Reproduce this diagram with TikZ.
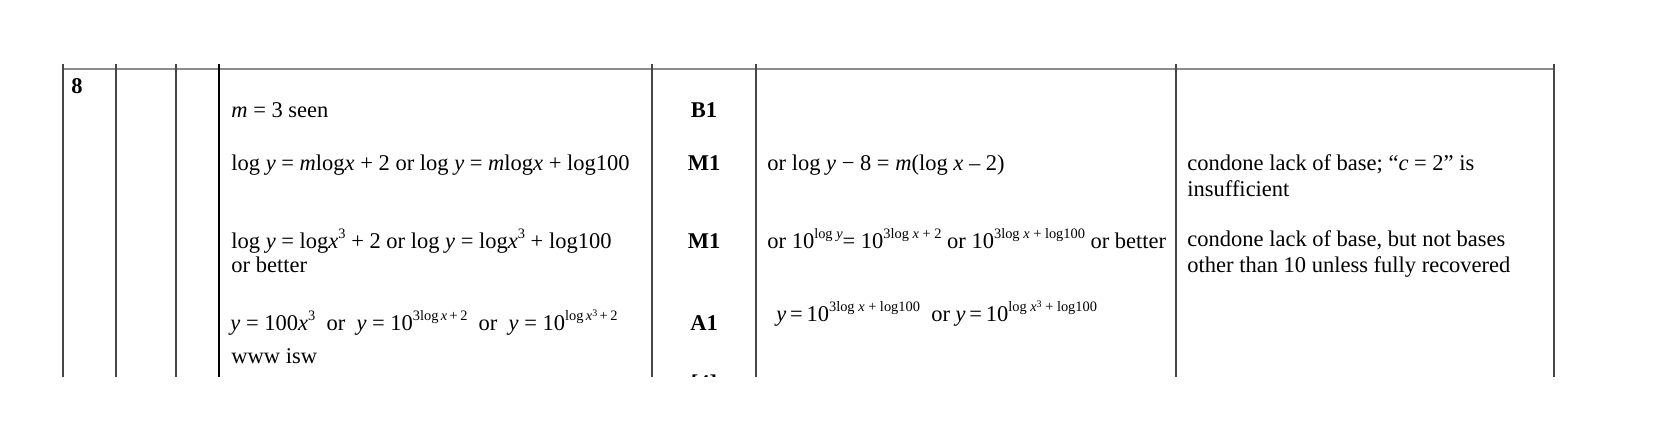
\documentclass[tikz,border=0pt]{standalone}
\usepackage{fontspec}
\setmainfont{Liberation Serif}
\newcommand\ex[1]{\raisebox{0.45em}{\fontsize{7.2}{7.2}\selectfont #1}}
\newcommand\exx[1]{\raisebox{0.3em}{\fontsize{5}{5}\selectfont #1}}
\newcommand\iv[1]{\textit{#1}}
\begin{document}
\begin{tikzpicture}[x=0.5pt,y=-0.5pt,
  txt/.style={anchor=base west,inner sep=0pt,font=\fontsize{11.25}{13}\selectfont},
  scorelbl/.style={anchor=base,inner sep=0pt,font=\fontsize{11.25}{13}\selectfont\bfseries},
  toprule/.style={draw=black!45,line width=0.9pt},
  colline/.style={draw=black!72,line width=0.8pt},
  keyline/.style={draw=black,line width=0.8pt}]
\useasboundingbox (0,0) rectangle (1656,437);
\coordinate (hl) at (63,69); \coordinate (hr) at (1554,69);
\draw[toprule] (hl) -- (hr);
\foreach \x/\n in {63/a,116/b,176/c,652/e,756/f,1176/g,1554/h}{
  \coordinate (t\n) at (\x,64); \coordinate (b\n) at (\x,377);
  \draw[colline] (t\n) -- (b\n);}
\coordinate (td) at (219,64); \coordinate (bd) at (219,377);
\draw[keyline] (td) -- (bd);

\node[scorelbl,anchor=base west] (q) at (71,94) {8};
\node[txt] (r1) at (231,118) {\iv{m} = 3 seen};
\node[scorelbl] (s1) at (704,118) {B1};
\node[txt] (r2) at (231,171) {log \iv{y} = \iv{m}log\iv{x} + 2 or log \iv{y} = \iv{m}log\iv{x} + log100};
\node[scorelbl] (s2) at (704,171) {M1};
\node[txt] (g2) at (767,171) {or log \iv{y} − 8 = \iv{m}(log \iv{x} – 2)};
\node[txt] (c2a) at (1187,171) {condone lack of base; “\iv{c} = 2” is};
\node[txt] (c2b) at (1187,197) {insufficient};
\node[txt] (r3a) at (231,249) {log \iv{y} = log\iv{x}\ex{3} + 2 or log \iv{y} = log\iv{x}\ex{3} + log100};
\node[txt] (r3b) at (231,273) {or better};
\node[scorelbl] (s3) at (704,249) {M1};
\node[txt] (g3) at (767,249) {or 10\ex{log \iv{y}}= 10\ex{3log \iv{x} + 2} or 10\ex{3log \iv{x} + log100} or better};
\node[txt] (c3a) at (1187,247) {condone lack of base, but not bases};
\node[txt] (c3b) at (1187,273) {other than 10 unless fully recovered};
\node[txt] (r4a) at (230,331) {\iv{y} = 100\iv{x}\ex{3}\ \ or\ \ \iv{y} = 10\ex{3log\,\iv{x}\,+\,2}\ \ or\ \ \iv{y} = 10\ex{log\,\iv{x}\exx{3}\,+\,2}};
\node[txt] (r4b) at (231,364) {www isw};
\node[scorelbl] (s4) at (704,331) {A1};
\node[txt] (g4) at (776,322) {\iv{y}\,=\,10\ex{3log \iv{x} + log100}\ \ or \iv{y}\,=\,10\ex{log \iv{x}\exx{3} + log100}};
\begin{scope}
\clip (0,0) rectangle (1656,377);
\node[scorelbl] (tot) at (704,391) {[4]};
\end{scope}
\end{tikzpicture}
\end{document}
